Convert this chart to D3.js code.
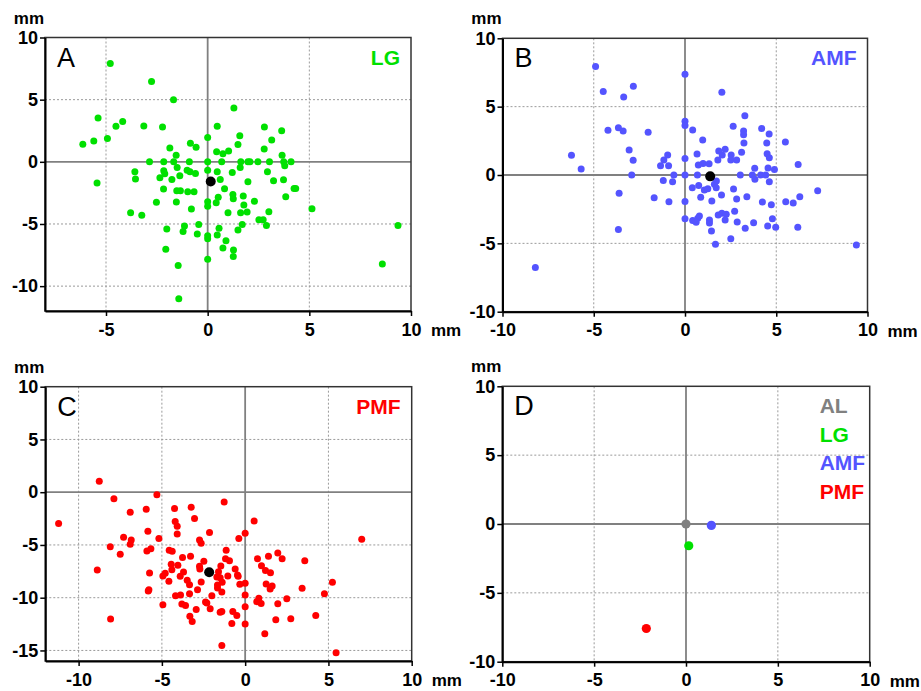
<!DOCTYPE html>
<html>
<head>
<meta charset="utf-8">
<script src="https://cdn.jsdelivr.net/npm/d3@7"></script>
<style>
  body { margin: 0; background: #fff; }
  text { font-family: "Liberation Sans", Arial, sans-serif; }
</style>
</head>
<body>
<div id="main_view"></div>
<script>
// displacement points (x, y in mm)
var lgPoints = [
  [-4.79,7.91],[-2.76,6.47],[-1.68,5.0],[1.29,4.33],[-5.39,3.53],[-4.51,2.86],[-4.18,3.24],
  [-3.14,2.89],[-2.22,2.81],[0.47,2.86],[2.79,2.81],[3.64,2.49],[-6.14,1.42],[-5.60,1.68],
  [-4.93,1.87],[0,1.95],[1.58,2.09],[3.15,1.76],[-0.85,1.50],[-0.57,1.18],[-1.86,1.12],
  [1.49,1.39],[2.78,1.04],[0.44,0.80],[1.03,0.88],[0.75,0.64],[-1.55,0.53],[3.66,0.53],
  [-2.86,0],[-2.16,0],[-1.67,0],[-0.90,0],[0,0],[0.69,0],[1.63,0],[1.98,0],[2.08,0],
  [2.47,0],[3.04,0],[3.74,0],[4.10,0],
  [3.79,-0.32],[-3.58,-0.80],[-3.55,-1.39],[-5.44,-1.71],[-1.50,-0.45],[-2.16,-0.72],
  [-2.11,-0.96],[-1.37,-1.12],[-1.76,-1.42],[-2.35,-1.28],[-1.01,-0.67],[-0.87,-0.80],
  [-0.60,-0.94],[0,-0.67],[0.47,-0.80],[1.21,-0.86],[1.60,-0.45],[2.94,-0.80],[0.62,-1.42],
  [1.98,-1.60],[3.24,-1.52],[3.73,-1.44],[4.25,-2.14],[4.33,-2.14],[-2.17,-2.19],
  [-1.52,-2.33],[-1.34,-2.33],[-0.98,-2.41],[-0.67,-2.41],[0.83,-2.17],[1.24,-2.62],
  [1.75,-2.75],[3.84,-2.81],[-2.52,-3.26],[-1.54,-3.24],[0,-3.21],[0,-3.58],[0.42,-3.29],
  [0.52,-2.86],[1.26,-2.97],[1.78,-3.48],[2.30,-3.18],[-0.80,-3.80],[-3.79,-4.09],
  [-3.24,-4.30],[1.00,-4.09],[1.62,-4.09],[1.94,-4.04],[3.01,-4.01],[5.13,-3.77],
  [-2.01,-5.40],[-1.14,-5.16],[-1.21,-5.61],[-0.44,-5.05],[-0.51,-5.80],[0.56,-5.35],
  [0.47,-5.88],[1.49,-5.48],[1.70,-5.05],[2.52,-4.65],[2.73,-4.65],[2.89,-5.13],
  [9.36,-5.13],[0,-5.94],[0,-6.18],[0.90,-6.34],[-2.06,-7.03],[0.75,-6.93],[1.27,-7.09],
  [1.26,-7.62],[0,-7.83],[-1.45,-8.34],[8.59,-8.21],[-1.42,-11.02]
];

var amfPoints = [
  [-4.90,7.93],[0,7.37],[-4.48,6.10],[-2.83,6.49],[-3.36,5.71],[2.02,6.05],[3.28,4.34],
  [0,3.93],[0,3.63],[0.42,3.29],[-4.22,3.27],[-3.65,3.46],[-3.39,3.22],[-2.02,3.12],
  [2.64,3.56],[3.21,3.22],[3.21,2.95],[4.20,3.41],[4.61,3.00],[3.23,2.34],[4.48,2.34],
  [5.50,2.41],[0.97,2.56],[-3.06,1.83],[-2.84,1.07],[-6.22,1.44],[-5.69,0.44],[-1.34,0.68],
  [-1.16,1.10],[-0.95,1.46],[-0.90,0.68],[0,1.20],[0.66,1.54],[0.73,0.73],[0.99,0.85],
  [1.32,0.83],[1.85,1.76],[2.20,1.88],[2.04,1.46],[1.80,1.10],[2.53,1.46],[2.51,1.10],
  [2.83,1.10],[3.10,1.66],[4.50,1.56],[4.62,1.27],[6.20,0.76],[3.82,0.49],[4.55,0.51],
  [4.90,0.41],
  [-2.92,0],[-0.61,0],[0,0],[0.68,0],[3.03,0],[3.69,0],[4.15,0],[4.42,0],
  [3.83,-0.32],[4.62,-0.49],[-1.19,-0.41],[-0.68,-0.49],[0.75,-0.76],[0.40,-0.93],
  [1.72,-0.44],[1.61,-0.68],[1.71,-0.93],[1.06,-1.10],[1.25,-1.00],[2.66,-1.02],
  [-3.61,-1.34],[7.27,-1.15],[-1.69,-1.66],[-0.88,-1.95],[0,-1.93],[0.86,-1.63],
  [1.47,-1.90],[2.00,-1.46],[2.83,-1.76],[3.39,-1.59],[4.24,-1.98],[4.73,-2.17],
  [5.52,-1.95],[5.93,-2.05],[6.29,-1.59],[0,-3.20],[0.42,-3.32],[0.61,-3.46],[0.70,-3.17],
  [0.79,-3.00],[1.34,-3.29],[1.34,-3.51],[1.82,-2.93],[2.02,-2.80],[2.26,-2.88],
  [2.20,-3.29],[2.72,-2.66],[2.86,-3.44],[3.76,-3.49],[4.79,-3.20],[4.53,-3.73],
  [4.97,-3.83],[6.18,-3.83],[3.30,-3.90],[1.45,-4.10],[-3.65,-3.98],[2.51,-4.66],
  [1.67,-5.07],[9.39,-5.12],[-8.20,-6.76]
];

var pmfPoints = [
  [-8.76,1.04],[-7.88,-0.63],[-5.30,-0.25],[-11.2,-2.97],[-6.90,-1.90],[-5.94,-1.61],
  [-4.24,-1.55],[-3.24,-1.42],[-1.26,-0.92],[0.54,-2.72],[-4.20,-2.78],[-4.08,-3.23],
  [-3.04,-2.50],[-5.84,-3.70],[-4.08,-3.96],[-2.14,-3.83],[0,-3.89],[-0.38,-4.40],
  [-7.30,-4.27],[-6.84,-4.53],[-6.90,-4.94],[-8.10,-5.16],[-5.18,-4.40],[-2.74,-4.53],
  [-2.64,-4.84],[7.00,-4.46],[-7.50,-5.89],[-5.90,-5.57],[-5.66,-5.35],[-4.56,-5.51],
  [-4.38,-5.60],[-3.76,-6.20],[-3.28,-6.08],[-1.14,-5.51],[-2.48,-6.55],[-1.18,-6.30],
  [-0.94,-6.49],[-1.46,-6.99],[-0.60,-7.28],[0.74,-6.30],[1.40,-6.08],[1.96,-5.76],
  [2.22,-6.30],[3.58,-6.49],[0.98,-6.96],[1.22,-7.41],[1.52,-7.63],[-4.44,-6.84],
  [-4.04,-6.93],[-4.40,-7.34],[-2.74,-7.03],[-2.72,-7.28],[-3.70,-7.56],[-3.90,-7.97],
  [-4.94,-7.94],[-4.80,-7.69],[-5.74,-7.66],[-8.88,-7.37],[-4.58,-8.45],[-3.48,-8.35],
  [-3.34,-8.77],[-2.64,-8.51],[-2.86,-9.24],[-3.34,-9.62],[-4.18,-9.81],[-3.88,-9.75],
  [-5.82,-9.37],[-5.78,-9.24],[-1.60,-7.53],[-1.70,-8.04],[-1.50,-8.10],[-1.04,-7.94],
  [-0.46,-7.85],[-0.42,-7.97],[-1.38,-8.54],[-1.66,-8.80],[-1.66,-9.08],[-1.40,-9.46],
  [-2.00,-9.81],[-0.32,-8.73],[0,-8.64],[0,-9.75],[0,-10.85],[0,-12.5],[1.26,-8.70],
  [1.62,-8.89],[1.50,-9.18],[0.82,-10.06],[0.70,-10.38],[0.96,-10.54],[3.42,-9.11],
  [5.24,-8.54],[4.76,-9.62],[2.50,-10.09],[1.96,-10.57],[-4.94,-10.66],[-3.80,-10.60],
  [-3.58,-10.73],[-2.94,-11.11],[-2.38,-10.41],[-2.30,-10.51],[-2.10,-11.04],
  [-1.50,-11.39],[-1.40,-11.30],[-0.74,-11.30],[-0.50,-11.68],[-3.32,-11.77],
  [-3.18,-12.25],[-0.80,-12.44],[-8.08,-12.03],[1.84,-12.09],[2.74,-11.99],[4.24,-11.68],
  [1.18,-13.42],[-1.40,-14.53],[5.46,-15.22]
];

// group means
var groupNames = ["AL", "LG", "AMF", "PMF"];
var groupMeans = [[0, 0], [0.15, -1.58], [1.38, -0.10], [-2.16, -7.59]];
var groupColors = ["#808080", "#00e000", "#5454ff", "#ff0000"];

// tick values
var ticksA_x = [-5, 0, 5, 10], ticksA_y = [-10, -5, 0, 5, 10];
var ticksB_x = [-10, -5, 0, 5, 10], ticksB_y = [-10, -5, 0, 5, 10];
var ticksC_x = [-10, -5, 0, 5, 10], ticksC_y = [-15, -10, -5, 0, 5, 10];
var ticksD_x = [-10, -5, 0, 5, 10], ticksD_y = [-10, -5, 0, 5, 10];

var panels = [
  {letter: "A", left: 45, top: 37.5, width: 366, height: 273.5, xDomain: [-8, 10], yDomain: [-12, 10],
   xTicks: ticksA_x, yTicks: ticksA_y, points: lgPoints, group: 1},
  {letter: "B", left: 502.5, top: 38.3, width: 365, height: 273.4, xDomain: [-10, 10], yDomain: [-10, 10],
   xTicks: ticksB_x, yTicks: ticksB_y, points: amfPoints, group: 2},
  {letter: "C", left: 45.3, top: 386.7, width: 366.4, height: 274.3, xDomain: [-12, 10], yDomain: [-16, 10],
   xTicks: ticksC_x, yTicks: ticksC_y, points: pmfPoints, group: 3},
  {letter: "D", left: 502.3, top: 386.3, width: 367.4, height: 275.4, xDomain: [-10, 10], yDomain: [-10, 10],
   xTicks: ticksD_x, yTicks: ticksD_y, points: null, group: null}
];

// plain hyphen for negative numbers, like the original figure
var fmt = function(d) { return String(d); };

var svg = d3.select("#main_view").append("svg")
    .attr("width", 921)
    .attr("height", 691);

panels.forEach(function(p) {
  var xScale = d3.scaleLinear().domain(p.xDomain).range([0, p.width]);
  var yScale = d3.scaleLinear().domain(p.yDomain).range([p.height, 0]);

  var g = svg.append("g")
      .attr("transform", "translate(" + p.left + "," + p.top + ")");

  // dotted grid (skip zero and the frame edges)
  g.selectAll(".gx")
      .data(p.xTicks.filter(function(d) { return d != 0 && d != p.xDomain[0] && d != p.xDomain[1]; }))
    .enter().append("line")
      .attr("x1", function(d) { return xScale(d); })
      .attr("x2", function(d) { return xScale(d); })
      .attr("y1", 0).attr("y2", p.height)
      .attr("stroke", "#9a9a9a").attr("stroke-width", 1).attr("stroke-dasharray", "2,2");

  g.selectAll(".gy")
      .data(p.yTicks.filter(function(d) { return d != 0 && d != p.yDomain[0] && d != p.yDomain[1]; }))
    .enter().append("line")
      .attr("y1", function(d) { return yScale(d); })
      .attr("y2", function(d) { return yScale(d); })
      .attr("x1", 0).attr("x2", p.width)
      .attr("stroke", "#9a9a9a").attr("stroke-width", 1).attr("stroke-dasharray", "2,2");

  // zero lines
  g.append("line")
      .attr("x1", xScale(0)).attr("x2", xScale(0)).attr("y1", 0).attr("y2", p.height)
      .attr("stroke", "#808080").attr("stroke-width", 1.8);
  g.append("line")
      .attr("y1", yScale(0)).attr("y2", yScale(0)).attr("x1", 0).attr("x2", p.width)
      .attr("stroke", "#808080").attr("stroke-width", 1.8);

  if (p.points) {
    g.selectAll(".dot")
        .data(p.points)
      .enter().append("circle")
        .attr("r", 3.5)
        .attr("cx", function(d) { return xScale(d[0]); })
        .attr("cy", function(d) { return yScale(d[1]); })
        .attr("fill", groupColors[p.group]);

    var m = groupMeans[p.group];
    g.append("circle")
        .attr("r", 5)
        .attr("cx", xScale(m[0]))
        .attr("cy", yScale(m[1]))
        .attr("fill", "#000");

    g.append("text")
        .attr("x", p.width - 11)
        .attr("y", 27)
        .attr("text-anchor", "end")
        .attr("font-size", "21px")
        .attr("font-weight", "bold")
        .attr("fill", groupColors[p.group])
        .text(groupNames[p.group]);
  } else {
    // summary panel: all group means
    g.selectAll(".mean")
        .data(groupMeans)
      .enter().append("circle")
        .attr("r", 4.6)
        .attr("cx", function(d) { return xScale(d[0]); })
        .attr("cy", function(d) { return yScale(d[1]); })
        .attr("fill", function(d, i) { return groupColors[i]; });

    g.selectAll(".leg")
        .data(groupNames)
      .enter().append("text")
        .attr("x", p.width - 50)
        .attr("y", function(d, i) { return 27 + i * 28.5; })
        .attr("font-size", "21px")
        .attr("font-weight", "bold")
        .attr("fill", function(d, i) { return groupColors[i]; })
        .text(function(d) { return d; });
  }

  // frame
  g.append("rect")
      .attr("width", p.width).attr("height", p.height)
      .attr("fill", "none").attr("stroke", "#333").attr("stroke-width", 1.5);

  // panel letter
  g.append("text")
      .attr("x", 12)
      .attr("y", 29)
      .attr("font-size", "27px")
      .text(p.letter);

  // axes
  var xAxis = g.append("g")
      .attr("transform", "translate(0," + p.height + ")")
      .call(d3.axisBottom(xScale).tickValues(p.xTicks).tickFormat(fmt)
        .tickSize(5).tickSizeOuter(0).tickPadding(7));
  var yAxis = g.append("g")
      .call(d3.axisLeft(yScale).tickValues(p.yTicks).tickFormat(fmt)
        .tickSize(5).tickSizeOuter(0).tickPadding(2));

  [xAxis, yAxis].forEach(function(a) {
    a.attr("font-family", "'Liberation Sans', Arial, sans-serif")
     .attr("font-size", 18)
     .attr("font-weight", "bold");
    a.select(".domain").attr("stroke", "#000").attr("stroke-width", 2);
    a.selectAll(".tick line").attr("stroke", "#000").attr("stroke-width", 1.5);
    a.selectAll(".tick text").attr("fill", "#000");
  });

  // unit labels
  g.append("text")
      .attr("x", -1).attr("y", -14)
      .attr("text-anchor", "end")
      .attr("font-size", "17px").attr("font-weight", "bold")
      .text("mm");
  g.append("text")
      .attr("x", p.width + 20).attr("y", p.height + 25)
      .attr("font-size", "17px").attr("font-weight", "bold")
      .text("mm");
});
</script>
</body>
</html>
